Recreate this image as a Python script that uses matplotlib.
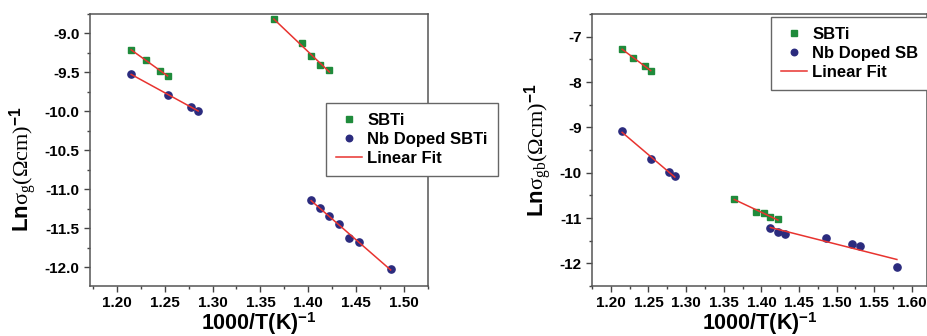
import numpy as np
import matplotlib
matplotlib.use('Agg')
import matplotlib.pyplot as plt
from matplotlib.ticker import MultipleLocator

plt.rcParams['font.family'] = ['Liberation Sans', 'DejaVu Sans']
plt.rcParams['font.weight'] = 'bold'
plt.rcParams['mathtext.fontset'] = 'custom'
plt.rcParams['mathtext.rm'] = 'Liberation Serif:normal'
plt.rcParams['mathtext.it'] = 'Liberation Serif:italic:normal'
plt.rcParams['mathtext.bf'] = 'Liberation Sans:bold'

# 1000/T values (same temperatures in both panels)
x_sbti_lo = [1.215, 1.230, 1.245, 1.253]
x_nb_lo = [1.215, 1.253, 1.277, 1.285]
x_sbti_hi = [1.364, 1.393, 1.403, 1.412, 1.422]
x_nb_hi_g = [1.403, 1.412, 1.422, 1.432, 1.443, 1.453, 1.486]
x_nb_hi_gb = [1.412, 1.422, 1.432, 1.486, 1.520, 1.531, 1.580]

# grain conductivity, ln sigma_g
g_sbti_lo = [-9.21, -9.34, -9.48, -9.54]
g_nb_lo = [-9.52, -9.79, -9.94, -9.99]
g_sbti_hi = [-8.82, -9.12, -9.29, -9.41, -9.47]
g_nb_hi = [-11.14, -11.24, -11.34, -11.44, -11.62, -11.68, -12.02]

# grain boundary conductivity, ln sigma_gb
gb_sbti_lo = [-7.28, -7.46, -7.65, -7.75]
gb_nb_lo = [-9.09, -9.69, -9.99, -10.07]
gb_sbti_hi = [-10.57, -10.86, -10.90, -10.97, -11.02]
gb_nb_hi = [-11.21, -11.31, -11.35, -11.44, -11.57, -11.61, -12.07]

green = '#1f8b3b'
navy = '#2b2b7e'
red = '#e8332f'

fig = plt.figure(figsize=(9.28, 3.36), dpi=100)
ax_1 = fig.add_axes([90 / 928, 50 / 336, 338 / 928, 272 / 336])
ax_2 = fig.add_axes([592 / 928, 50 / 336, 335 / 928, 272 / 336])


def fit_line(ax, x, y):
    k, b = np.polyfit(x, y, 1)
    xs = np.array([min(x), max(x)])
    return ax.plot(xs, k * xs + b, color=red, lw=1.1, zorder=3)[0]


def draw(ax, sets):
    (xs1, ys1), (xs2, ys2), (xn1, yn1), (xn2, yn2) = sets
    h_s = ax.plot(xs1, ys1, 's', color=green, ms=4.5, mec=green, zorder=2)[0]
    ax.plot(xs2, ys2, 's', color=green, ms=4.5, mec=green, zorder=2)
    h_n = ax.plot(xn1, yn1, 'o', color=navy, ms=5.2, mec=navy, zorder=2)[0]
    ax.plot(xn2, yn2, 'o', color=navy, ms=5.2, mec=navy, zorder=2)
    for x, y in sets:
        h_l = fit_line(ax, x, y)
    return h_s, h_n, h_l


hs = draw(ax_1, [(x_sbti_lo, g_sbti_lo), (x_sbti_hi, g_sbti_hi),
                 (x_nb_lo, g_nb_lo), (x_nb_hi_g, g_nb_hi)])
hs2 = draw(ax_2, [(x_sbti_lo, gb_sbti_lo), (x_sbti_hi, gb_sbti_hi),
                  (x_nb_lo, gb_nb_lo), (x_nb_hi_gb, gb_nb_hi)])

ax_1.set_xlim(1.172, 1.525)
ax_1.set_ylim(-12.24, -8.75)
ax_1.xaxis.set_major_locator(MultipleLocator(0.05))
ax_1.xaxis.set_minor_locator(MultipleLocator(0.025))
ax_1.yaxis.set_major_locator(MultipleLocator(0.5))
ax_1.yaxis.set_minor_locator(MultipleLocator(0.25))
ax_1.yaxis.set_major_formatter(plt.FormatStrFormatter('%.1f'))
ax_1.xaxis.set_major_formatter(plt.FormatStrFormatter('%.2f'))

ax_2.set_xlim(1.175, 1.62)
ax_2.set_ylim(-12.5, -6.5)
ax_2.xaxis.set_major_locator(MultipleLocator(0.05))
ax_2.xaxis.set_minor_locator(MultipleLocator(0.025))
ax_2.yaxis.set_major_locator(MultipleLocator(1))
ax_2.yaxis.set_minor_locator(MultipleLocator(0.5))
ax_2.yaxis.set_major_formatter(plt.FormatStrFormatter('%d'))
ax_2.xaxis.set_major_formatter(plt.FormatStrFormatter('%.2f'))

for ax in (ax_1, ax_2):
    ax.tick_params(which='major', direction='out', length=4, width=1,
                   labelsize=11, color='#444444')
    ax.tick_params(which='minor', direction='out', length=2.5, width=1,
                   color='#444444')
    for s in ax.spines.values():
        s.set_color('#555555')
        s.set_linewidth(1.1)
    for lab in ax.get_xticklabels() + ax.get_yticklabels():
        lab.set_fontweight('bold')
    ax.set_xlabel(r'1000/T(K)$^{\mathbf{-1}}$', fontsize=15.5, fontweight='bold',
                  labelpad=0)

ax_1.set_ylabel(r'$\mathbf{Ln}\mathrm{\sigma_{g}(\Omega cm)}^{\mathbf{-1}}$',
                fontsize=16)
ax_1.yaxis.set_label_coords(-0.15, 0.43)
ax_2.set_ylabel(r'$\mathbf{Ln}\mathrm{\sigma_{gb}(\Omega cm)}^{\mathbf{-1}}$',
                fontsize=16, labelpad=4)

leg_kw = dict(loc='upper left', fancybox=False, borderaxespad=0,
              prop={'weight': 'bold', 'size': 12}, handlelength=1.6,
              handletextpad=0.3, labelspacing=0.25, borderpad=0.6,
              markerscale=0.9, framealpha=1)
l1 = ax_1.legend(hs, ['SBTi', 'Nb Doped SBTi', 'Linear Fit'],
                 bbox_to_anchor=(0.697, 0.674), **leg_kw)
l2 = ax_2.legend(hs2, ['SBTi', 'Nb Doped SB', 'Linear Fit'],
                 bbox_to_anchor=(0.533, 0.99), **leg_kw)
for lg in (l1, l2):
    lg.get_frame().set_edgecolor('#666666')
    lg.get_frame().set_linewidth(1)
    lg.set_zorder(5)

plt.savefig('out.png', dpi=100)
